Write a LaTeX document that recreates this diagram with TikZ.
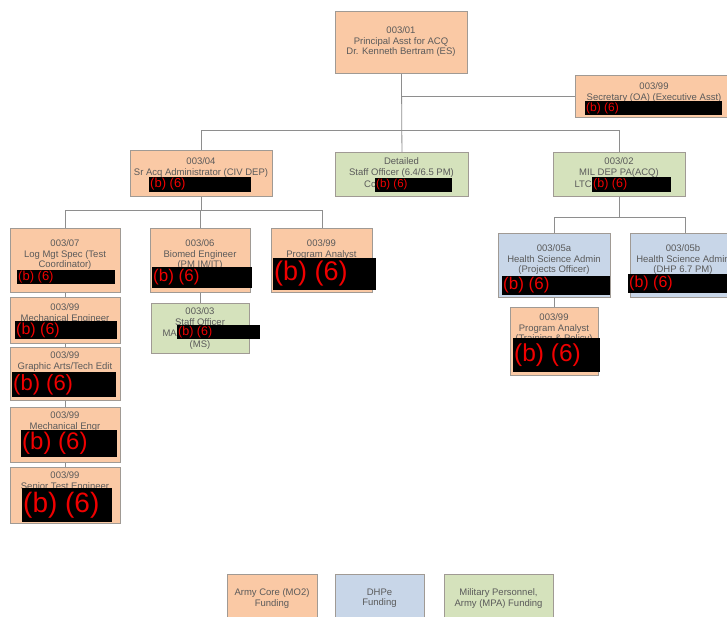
\documentclass[tikz,border=0pt]{standalone}
\usepackage{fontspec}
\setmainfont{Liberation Sans}
\definecolor{peach}{HTML}{FAC9A5}
\definecolor{sage}{HTML}{D5E2BC}
\definecolor{sky}{HTML}{C8D6E8}
\definecolor{edge}{HTML}{A09A94}
\definecolor{ink}{HTML}{5A5A5A}
\definecolor{wire}{HTML}{8E8E8E}
\definecolor{redtext}{HTML}{F00000}
\begin{document}
\begin{tikzpicture}[x=1pt,y=-1pt,
  box/.style={draw=edge, line width=0.9pt, inner sep=0, anchor=north west},
  pbox/.style={box, fill=peach},
  gbox/.style={box, fill=sage},
  bbox/.style={box, fill=sky},
  txt/.style={text=ink, font=\fontsize{9.5}{10.6}\selectfont, align=center, inner sep=0},
  rtxt/.style={text=redtext, inner xsep=1pt, inner ysep=0, anchor=west},
  wirestyle/.style={draw=wire, line width=0.8pt}]
\useasboundingbox (0,0) rectangle (727,616);
\fill[white] (0,0) rectangle (727,616);
\clip (0,0) rectangle (727,616);

% ---- boxes ----
\node[pbox, minimum width=132pt, minimum height=62pt] (top) at (335,11) {};
\node[pbox, minimum width=160pt, minimum height=42pt] (sec) at (575,75) {};
\node[pbox, minimum width=142pt, minimum height=46pt] (sra) at (130,150) {};
\node[gbox, minimum width=133pt, minimum height=44pt] (det) at (335,152) {};
\node[gbox, minimum width=132pt, minimum height=44pt] (mil) at (553,152) {};
\node[pbox, minimum width=110pt, minimum height=64pt] (log) at (10,228) {};
\node[pbox, minimum width=100pt, minimum height=64pt] (bio) at (150,228) {};
\node[pbox, minimum width=101pt, minimum height=64pt] (pa1) at (271,228) {};
\node[pbox, minimum width=110pt, minimum height=46pt] (me1) at (10,297) {};
\node[pbox, minimum width=110pt, minimum height=53pt] (ga) at (10,347) {};
\node[pbox, minimum width=110pt, minimum height=55pt] (me2) at (10,407) {};
\node[pbox, minimum width=110pt, minimum height=56pt] (ste) at (10,467) {};
\node[gbox, minimum width=98pt, minimum height=50pt] (so) at (151,303) {};
\node[bbox, minimum width=112pt, minimum height=64pt] (h5a) at (498,233) {};
\node[bbox, minimum width=110pt, minimum height=64pt] (h5b) at (630,233) {};
\node[pbox, minimum width=88pt, minimum height=68pt] (pa2) at (510,307) {};
\node[pbox, minimum width=90pt, minimum height=50pt] (lg1) at (227,574) {};
\node[bbox, minimum width=89pt, minimum height=50pt] (lg2) at (335,574) {};
\node[gbox, minimum width=109pt, minimum height=50pt] (lg3) at (444,574) {};

% ---- connectors ----
\coordinate (j1) at (401,130);
\coordinate (j2) at (0,210);
\coordinate (j3) at (0,217);
\draw[wirestyle] (top.south) -- (det.north);
\draw[wirestyle] (top.south |- sec.west) -- (sec.west);
\draw[wirestyle] (sra.north) -- (sra.north |- j1) -- (mil.north |- j1) -- (mil.north);
\draw[wirestyle] (sra.south) -- (sra.south |- j2);
\draw[wirestyle] (log.north) -- (log.north |- j2) -- (pa1.north |- j2) -- (pa1.north);
\draw[wirestyle] (bio.north) -- (bio.north |- j2);
\draw[wirestyle] (log) -- (me1);
\draw[wirestyle] (me1) -- (ga);
\draw[wirestyle] (ga) -- (me2);
\draw[wirestyle] (me2) -- (ste);
\draw[wirestyle] (bio) -- (so);
\draw[wirestyle] (mil.south) -- (mil.south |- j3);
\draw[wirestyle] (h5a.north) -- (h5a.north |- j3) -- (h5b.north |- j3) -- (h5b.north);
\draw[wirestyle] (h5a) -- (pa2);

% ---- texts ----
\node[txt, anchor=north] (topt) at (401,26.6) {003/01\\Principal Asst for ACQ\\Dr. Kenneth Bertram (ES)};
\node[txt, anchor=north] (sect) at (654,82.6) {003/99\\Secretary (OA) (Executive Asst)};
\node[txt, anchor=north] (srat) at (201,157.6) {003/04\\Sr Acq Administrator (CIV DEP)};
\node[txt, anchor=north] (dett) at (401.5,157.6) {Detailed\\Staff Officer (6.4/6.5 PM)};
\node[txt, anchor=east] (detc) at (376,184) {Cc};
\node[txt, anchor=north] (milt) at (619,157.6) {003/02\\MIL DEP PA(ACQ)};
\node[txt, anchor=east] (milc) at (592,184) {LTC};
\node[txt, anchor=north] (logt) at (65,239.6) {003/07\\Log Mgt Spec (Test\\Coordinator)};
\node[txt, anchor=north] (biot) at (200,239.6) {003/06\\Biomed Engineer\\(PM IM/IT)};
\node[txt, anchor=north] (pa1t) at (321.5,239.6) {003/99\\Program Analyst};
\node[txt, anchor=north] (h5at) at (554,244.6) {003/05a\\Health Science Admin\\(Projects Officer)};
\node[txt, anchor=north] (h5bt) at (683,244.6) {003/05b\\Health Science Admin\\(DHP 6.7 PM)};
\node[txt, anchor=north] (me1t) at (65,303.6) {003/99\\Mechanical Engineer};
\node[txt, anchor=north] (gat) at (65,351.6) {003/99\\Graphic Arts/Tech Edit};
\node[txt, anchor=north] (sot) at (200,307.6) {003/03\\Staff Officer};
\node[txt, anchor=east] (soma) at (177,333) {MA};
\node[txt] (soms) at (200,345) {(MS)};
\node[txt, anchor=north] (me2t) at (65,411.6) {003/99\\Mechanical Engr};
\node[txt, anchor=north] (stet) at (65,471.6) {003/99\\Senior Test Engineer};
\node[txt, anchor=north] (pa2t) at (554,313.6) {003/99\\Program Analyst\\(Training \& Policy)};
\node[txt, anchor=north] (lg1t) at (272,588.6) {Army Core (MO2)\\Funding};
\node[txt, anchor=north] (lg2t) at (379.5,588.6) {DHPe\\Funding};
\node[txt, anchor=north] (lg3t) at (498.5,588.6) {Military Personnel,\\Army (MPA) Funding};

% ---- redactions ----
\fill[black] (585,101) rectangle (722,115);
\node[rtxt, font=\fontsize{12}{12}\selectfont] (r1) at (585,108) {(b) (6)};
\fill[black] (149,177) rectangle (251,192);
\node[rtxt, font=\fontsize{13}{13}\selectfont] (r2) at (149,184.5) {(b) (6)};
\fill[black] (375,178) rectangle (452,192);
\node[rtxt, font=\fontsize{11.5}{11.5}\selectfont] (r3) at (375,185) {(b) (6)};
\fill[black] (592,177) rectangle (671,192);
\node[rtxt, font=\fontsize{12.5}{12.5}\selectfont] (r4) at (592,184.5) {(b) (6)};
\fill[black] (17,270) rectangle (115,284);
\node[rtxt, font=\fontsize{13}{13}\selectfont] (r5) at (17,277) {(b) (6)};
\fill[black] (152,267) rectangle (252,288);
\node[rtxt, font=\fontsize{17}{17}\selectfont] (r6) at (152,277.5) {(b) (6)};
\fill[black] (273,258) rectangle (376,290);
\node[rtxt, font=\fontsize{27}{27}\selectfont] (r7) at (273,274) {(b) (6)};
\fill[black] (502,276) rectangle (610,295);
\node[rtxt, font=\fontsize{17}{17}\selectfont] (r8) at (502,285.5) {(b) (6)};
\fill[black] (628,274) rectangle (740,293);
\node[rtxt, font=\fontsize{16}{16}\selectfont] (r9) at (628,283.5) {(b) (6)};
\fill[black] (15,321) rectangle (117,339);
\node[rtxt, font=\fontsize{16}{16}\selectfont] (r10) at (15,330) {(b) (6)};
\fill[black] (177,325) rectangle (260,339);
\node[rtxt, font=\fontsize{12.5}{12.5}\selectfont] (r11) at (177,332) {(b) (6)};
\fill[black] (12,372) rectangle (116,397);
\node[rtxt, font=\fontsize{22}{22}\selectfont] (r12) at (12,384.5) {(b) (6)};
\fill[black] (21,430) rectangle (117,457);
\node[rtxt, font=\fontsize{24}{24}\selectfont] (r13) at (21,443.5) {(b) (6)};
\fill[black] (22,488) rectangle (112,522);
\node[rtxt, font=\fontsize{28}{28}\selectfont] (r14) at (22,505) {(b) (6)};
\fill[black] (513,338) rectangle (600,372);
\node[rtxt, font=\fontsize{24.5}{24.5}\selectfont] (r15) at (513,355) {(b) (6)};
\end{tikzpicture}
\end{document}
